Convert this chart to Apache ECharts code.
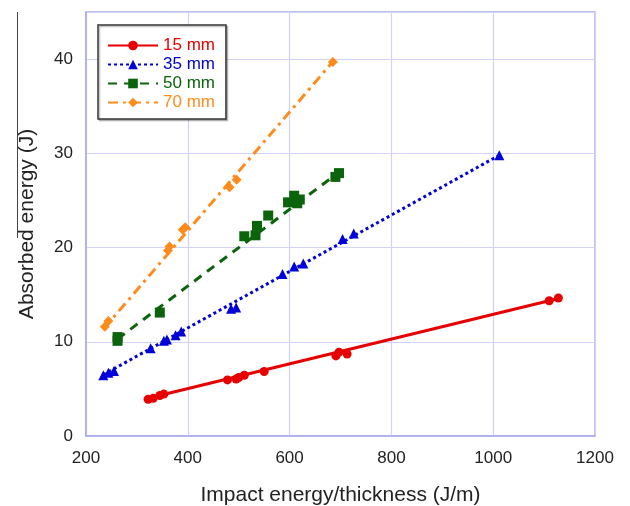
<!DOCTYPE html>
<html>
<head>
<meta charset="utf-8">
<script src="https://cdn.jsdelivr.net/npm/echarts@6/dist/echarts.min.js"></script>
<style>html,body{margin:0;padding:0;background:#fff;}#c{width:630px;height:506px;}</style>
</head>
<body>
<div id="c"></div>
<script>
// ---- data ----
var seriesNames = ['15 mm', '35 mm', '50 mm', '70 mm'];
var pts15 = [[322,3.9],[332,4.0],[345,4.3],[353,4.45],[478,5.95],[495,6.05],[500,6.2],[511,6.45],[550,6.85],[691,8.5],[697,8.9],[713,8.7],[1110,14.35],[1128,14.65]];
var pts35 = [[234,6.45],[244,6.7],[255,6.9],[327,9.3],[353,10.1],[359,10.25],[376,10.7],[387,11.1],[485,13.5],[495,13.65],[586,17.2],[609,18.0],[627,18.3],[704,20.9],[726,21.5],[1012,29.8]];
var pts50 = [[262,10.1],[262,10.5],[345,13.1],[511,21.2],[533,21.3],[536,22.3],[558,23.4],[597,24.8],[609,25.5],[615,24.7],[620,25.1],[690,27.5],[697,27.9]];
var pts70 = [[237,11.6],[244,12.2],[361,19.7],[364,20.1],[390,21.9],[395,22.15],[482,26.4],[496,27.2],[685,39.7]];
var fit15 = [[322,4.0],[1128,14.6]];
var fit35 = [[234,6.5],[1012,29.8]];
var fit50 = [[262,10.3],[697,28.0]];
var fit70 = [[235,11.4],[686,39.8]];
var xTicks = [200,400,600,800,1000,1200];
var yTicks = [0,10,20,30,40];

var colors = ['#e60000','#0000d8','#0b640b','#ff8c1a'];
var symbols = ['circle','triangle','rect','diamond'];
var symSizes = [9,10,10,10];
var dashes = ['solid',[3,3],[9,7],[10,5,3,5]];
var pts = [pts15,pts35,pts50,pts70];
var fits = [fit15,fit35,fit50,fit70];

var series = [];
for (var i = 0; i < 4; i++) {
  series.push({
    name: seriesNames[i], type: 'line', data: fits[i], showSymbol: false,
    symbol: symbols[i], symbolSize: symSizes[i],
    itemStyle: {color: colors[i]},
    lineStyle: {color: colors[i], width: 3, type: dashes[i]},
    z: 2, animation: false, silent: true
  });
}
for (var j = 0; j < 4; j++) {
  series.push({
    name: seriesNames[j], type: 'scatter', data: pts[j],
    symbol: symbols[j], symbolSize: symSizes[j],
    itemStyle: {color: colors[j], opacity: 1}, z: 3, animation: false
  });
}

var chart = echarts.init(document.getElementById('c'), null, {renderer: 'canvas'});
var font = '"Liberation Sans", Arial, sans-serif';
chart.setOption({
  animation: false,
  backgroundColor: '#ffffff',
  grid: {left: 86, right: 35, top: 12, bottom: 70, show: true, borderColor: '#aaaaee', borderWidth: 1.5,
         containLabel: false, outerBoundsMode: 'none'},
  graphic: [{
    type: 'line', shape: {x1: 17.5, y1: 12, x2: 17.5, y2: 238},
    style: {stroke: '#444', lineWidth: 1}, silent: true
  }],
  legend: {
    orient: 'vertical', left: 98, top: 25, itemWidth: 50, itemHeight: 12, itemGap: 2,
    padding: [12, 11, 8, 9],
    backgroundColor: '#fff', borderColor: '#333', borderWidth: 1.5,
    shadowColor: 'rgba(0,0,0,0.25)', shadowOffsetX: 1.5, shadowOffsetY: 1.5, shadowBlur: 1,
    data: seriesNames.map(function (n, k) { return {name: n, textStyle: {color: colors[k]}}; }),
    textStyle: {fontFamily: font, fontSize: 17}
  },
  xAxis: {
    type: 'value', min: xTicks[0], max: xTicks[xTicks.length-1], interval: 200,
    name: 'Impact energy/thickness (J/m)', nameLocation: 'middle', nameGap: 49,
    nameTextStyle: {fontFamily: font, fontSize: 21, color: '#222'},
    axisLine: {show: true, lineStyle: {color: '#aaaaee', width: 1.5}},
    axisTick: {show: false},
    axisLabel: {fontFamily: font, fontSize: 17, color: '#222', margin: 14, formatter: function (v) { return String(v); }},
    splitLine: {show: true, lineStyle: {color: '#d2d2f8', width: 1.2}}
  },
  yAxis: {
    type: 'value', min: 0, max: 45, interval: 10,
    name: 'Absorbed energy (J)', nameLocation: 'middle', nameGap: 48,
    nameTextStyle: {fontFamily: font, fontSize: 21, color: '#222'},
    axisLine: {show: true, lineStyle: {color: '#aaaaee', width: 1.5}},
    axisTick: {show: false},
    axisLabel: {fontFamily: font, fontSize: 17, color: '#222', margin: 13, showMaxLabel: false},
    splitLine: {show: true, lineStyle: {color: '#d2d2f8', width: 1.2}}
  },
  series: series
});
</script>
</body>
</html>
